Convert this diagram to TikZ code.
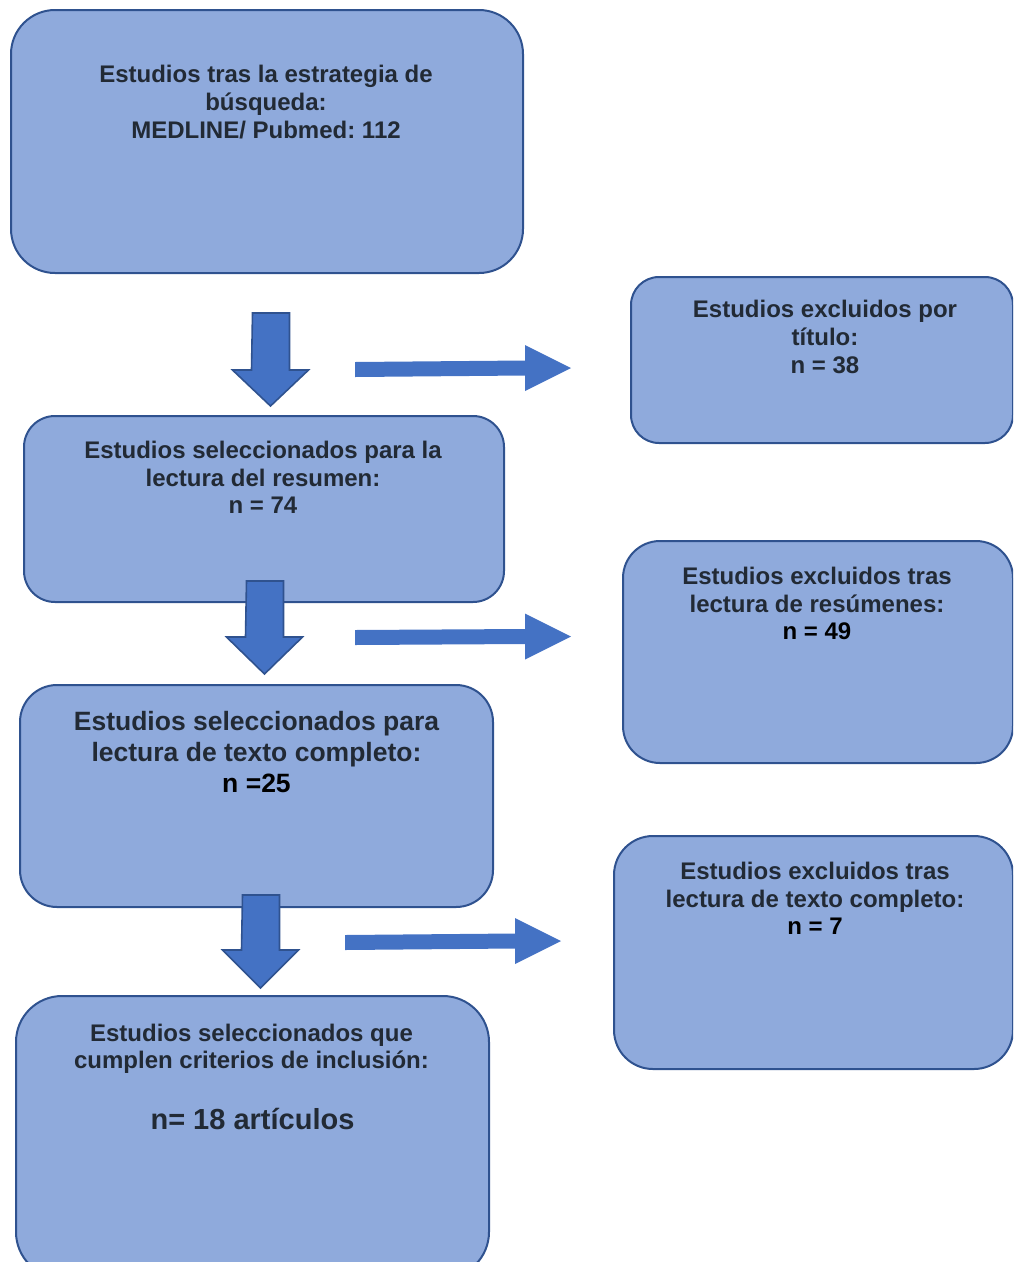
\documentclass[tikz,border=0pt]{standalone}
\usepackage{fontspec}
\setmainfont{Liberation Sans}
\definecolor{boxc}{HTML}{8FAADC}
\definecolor{bordc}{HTML}{2F528F}
\definecolor{arrc}{HTML}{4472C4}
\definecolor{txtc}{HTML}{222A35}
\frenchspacing
\begin{document}
\begin{tikzpicture}[x=1pt,y=-1pt,
  box/.style={draw=bordc, line width=2pt, fill=boxc, rounded corners=#1, anchor=north west, inner sep=0pt},
  txt/.style={text=txtc, align=center, inner sep=0pt, anchor=north, font=\bfseries\fontsize{24}{27.5}\selectfont},
  bigtxt/.style={txt, font=\bfseries\fontsize{26.5}{31}\selectfont},
  darrow/.style={draw=bordc, line width=1.6pt, fill=arrc, line join=miter},
  rarrow/.style={fill=arrc, draw=none}
]
\useasboundingbox (0,0) rectangle (1013,1262);
\clip (0,0) rectangle (1013,1262);

% main column boxes
\node[box=44pt, minimum width=512pt, minimum height=263pt] (b1) at (10,9) {};
\node[box=31pt, minimum width=480pt, minimum height=186pt] (b2) at (23,415) {};
\node[box=37pt, minimum width=473pt, minimum height=222pt] (b3) at (19,684) {};
\node[box=46pt, minimum width=473pt, minimum height=282pt] (b4) at (15,995) {};

% right boxes
\node[box=28pt, minimum width=382pt, minimum height=166pt] (r1) at (630,276) {};
\node[box=37pt, minimum width=390pt, minimum height=222pt] (r2) at (622,540) {};
\node[box=39pt, minimum width=399pt, minimum height=233pt] (r3) at (613,835) {};

% texts
\node[txt, font=\bfseries\fontsize{24}{28}\selectfont] (t1) at (266,65) {Estudios tras la estrategia de\\búsqueda:\\MEDLINE/ Pubmed: 112};
\node[txt] (t2) at (263,441) {Estudios seleccionados para la\\lectura del resumen:\\n = 74};
\node[bigtxt] (t3) at (256.5,711) {Estudios seleccionados para\\lectura de texto completo:\\\textcolor{black}{n =25}};
\node[txt, font=\bfseries\fontsize{24}{27}\selectfont] (t4a) at (251.5,1024) {Estudios seleccionados que\\cumplen criterios de inclusión:};
\node[txt, font=\bfseries\fontsize{29}{32}\selectfont] (t4b) at (252.5,1108) {n= 18 artículos};
\node[txt, font=\bfseries\fontsize{24}{28}\selectfont] (tr1) at (825,300) {Estudios excluidos por\\título:\\n = 38};
\node[txt] (tr2) at (817,567) {Estudios excluidos tras\\lectura de resúmenes:\\\textcolor{black}{n = 49}};
\node[txt] (tr3) at (815,862) {Estudios excluidos tras\\lectura de texto completo:\\\textcolor{black}{n = 7}};

% down arrows
\coordinate (d1) at (271,313);
\coordinate (d2) at (265,581);
\coordinate (d3) at (261,895);
\draw[darrow] (d1) ++(-18.5,0) -- ++(37,0) -- ++(0,57) -- ++(19,0) -- ++(-38,36) -- ++(-38,-36) -- ++(19,0) -- cycle;
\draw[darrow] (d2) ++(-18.5,0) -- ++(37,0) -- ++(0,56) -- ++(19,0) -- ++(-38,37) -- ++(-38,-37) -- ++(19,0) -- cycle;
\draw[darrow] (d3) ++(-18.5,0) -- ++(37,0) -- ++(0,55) -- ++(19,0) -- ++(-38,38) -- ++(-38,-38) -- ++(19,0) -- cycle;

% right arrows
\coordinate (s1) at (355,370);
\coordinate (s2) at (355,638);
\coordinate (s3) at (345,943);
\fill[rarrow] (s1) ++(0,-8) -- ++(170,-1.5) -- ++(0,-15.5) -- ++(46,23) -- ++(-46,23) -- ++(0,-15.5) -- ++(-170,1.5) -- cycle;
\fill[rarrow] (s2) ++(0,-8) -- ++(170,-1) -- ++(0,-15.5) -- ++(46,23) -- ++(-46,23) -- ++(0,-15.5) -- ++(-170,1) -- cycle;
\fill[rarrow] (s3) ++(0,-8) -- ++(170,-1.5) -- ++(0,-15.5) -- ++(46,23) -- ++(-46,23) -- ++(0,-15.5) -- ++(-170,1.5) -- cycle;
\end{tikzpicture}
\end{document}
